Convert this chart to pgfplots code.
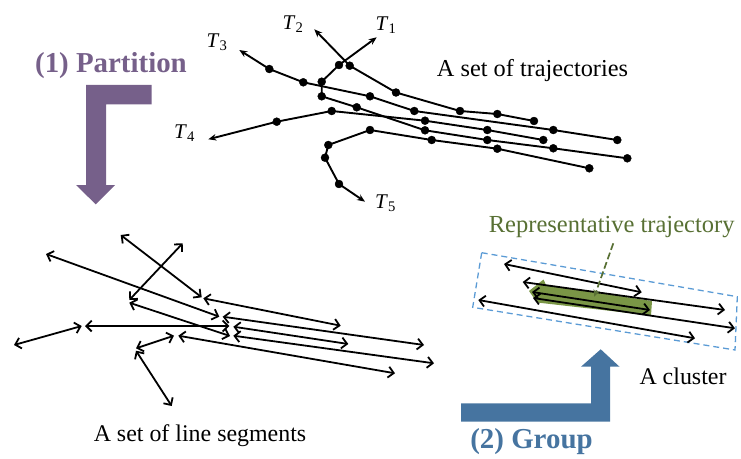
\documentclass[border=0pt]{standalone}
\usepackage{pgfplots}
\pgfplotsset{compat=1.18}
\usepackage{fontspec}
\setmainfont{Liberation Serif}
\usetikzlibrary{arrows.meta}
\definecolor{purp}{RGB}{118,96,138}
\definecolor{blu}{RGB}{70,116,160}
\definecolor{grtxt}{RGB}{88,112,52}
\definecolor{grband}{RGB}{122,150,70}
\definecolor{boxblue}{RGB}{91,155,213}
\tikzset{
  seg/.style={black, line width=1.8pt, {Straight Barb[length=5.5pt,width=11pt,line width=1.8pt]}-{Straight Barb[length=5.5pt,width=11pt,line width=1.8pt]}},
  traj/.style={black, line width=1.9pt, -{Stealth[length=8pt,width=6.5pt]}},
  dots/.style={only marks, mark=*, mark size=4pt, black},
}
\begin{document}
\begin{tikzpicture}
\begin{axis}[
  width=741bp, height=459bp, scale only axis,
  xmin=0, xmax=741, ymin=0, ymax=459, y dir=reverse,
  hide axis, clip=false,
]
% Partition arrow
\addplot[fill=purp, draw=none] coordinates {(151.7,85) (86,85) (86,185) (76,185) (95.7,204.3) (115,185) (106,185) (106,104.3) (151.7,104.3)} -- cycle;
% Group arrow
\addplot[fill=blu, draw=none] coordinates {(461,403.3) (591,403.3) (591,366.7) (581,366.7) (600.7,349.3) (619.5,366.7) (610,366.7) (610,421.7) (461,421.7)} -- cycle;

% Trajectories
\addplot[traj] coordinates {(627.3,158.3) (553.3,148.3) (487.3,140) (425,130.3) (356.7,107.3) (321.7,96.3) (321.7,81.7) (339,65) (376.7,37.3)};
\addplot[dots] coordinates {(627.3,158.3) (553.3,148.3) (487.3,140) (425,130.3) (356.7,107.3) (321.7,96.3) (321.7,81.7) (339,65)};
\addplot[traj] coordinates {(534,121) (497.3,114) (460,111) (396,92.5) (349.7,65.7) (314.3,29.3)};
\addplot[dots] coordinates {(534,121) (497.3,114) (460,111) (396,92.5) (349.7,65.7)};
\addplot[traj] coordinates {(617.3,140) (553.3,130) (414.3,111) (370,96.3) (303.3,82.3) (269.3,69) (239.3,50)};
\addplot[dots] coordinates {(617.3,140) (553.3,130) (414.3,111) (370,96.3) (303.3,82.3) (269.3,69)};
\addplot[traj] coordinates {(543.3,140) (487.3,130) (425,120.7) (331.7,111) (276.7,121.7) (208.3,139.3)};
\addplot[dots] coordinates {(543.3,140) (487.3,130) (425,120.7) (331.7,111) (276.7,121.7)};
\addplot[traj] coordinates {(589.3,168.3) (497.3,148.7) (431.7,140) (370,130) (328.3,145) (325,157.7) (339,184) (365,201.7)};
\addplot[dots] coordinates {(589.3,168.3) (497.3,148.7) (431.7,140) (370,130) (328.3,145) (325,157.7) (339,184)};

% Line segments
\addplot[seg] coordinates {(120.7,235) (201.7,297.3)};
\addplot[seg] coordinates {(182.7,243.3) (129.3,300)};
\addplot[seg] coordinates {(46,254) (219.3,316.7)};
\addplot[seg] coordinates {(129.3,302.7) (230,336)};
\addplot[seg] coordinates {(14,345) (81.7,326)};
\addplot[seg] coordinates {(85,326) (229.3,326)};
\addplot[seg] coordinates {(136,348.3) (174,335.7)};
\addplot[seg] coordinates {(136,350.7) (171.7,406)};
\addplot[seg] coordinates {(178.3,335.7) (395,373.3)};
\addplot[seg] coordinates {(203.3,298.3) (340.7,325.7)};
\addplot[seg] coordinates {(222.7,316.7) (424,345)};
\addplot[seg] coordinates {(233.3,326.7) (348.3,344)};
\addplot[seg] coordinates {(233.3,335.7) (434,363.3)};

% Cluster
\addplot[boxblue, line width=1.3pt, dash pattern=on 6pt off 4pt] coordinates {(481.7,252.7) (737.3,296.7) (735,350) (472.7,307.3)} -- cycle;
\addplot[fill=grband, draw=none] coordinates {(652,301) (546,285) (543.5,279.5) (529,291) (537,302.5) (651,315.5)} -- cycle;
\addplot[seg] coordinates {(504,264) (641.7,292.3)};
\addplot[seg] coordinates {(522.7,282) (725,310)};
\addplot[seg] coordinates {(532,292) (650,310)};
\addplot[seg] coordinates {(533,298) (735,328.3)};
\addplot[seg] coordinates {(478.3,300) (695,338.3)};
\addplot[grtxt, line width=1.7pt, dash pattern=on 7pt off 3pt, -{Stealth[length=7pt,width=6.5pt]}] coordinates {(613.3,243.3) (594.3,296.7)};

% Texts
\node[inner sep=0, text=purp, font=\fontsize{29}{29}\selectfont\bfseries] at (axis cs:111,66) {(1) Partition};
\node[inner sep=0, text=blu, font=\fontsize{29}{29}\selectfont\bfseries] at (axis cs:531.5,442) {(2) Group};
\node[inner sep=0, font=\fontsize{24.4}{24}\selectfont] at (axis cs:532.5,71) {A set of trajectories};
\node[inner sep=0, font=\fontsize{24}{24}\selectfont] at (axis cs:200,436) {A set of line segments};
\node[inner sep=0, font=\fontsize{24}{24}\selectfont] at (axis cs:683,376) {A cluster};
\node[inner sep=0, text=grtxt, font=\fontsize{24.6}{24}\selectfont] at (axis cs:611.7,227) {Representative trajectory};
\node[inner sep=0, font=\fontsize{21}{21}\selectfont] at (axis cs:386,25) {\textit{T}\textsubscript{1}};
\node[inner sep=0, font=\fontsize{21}{21}\selectfont] at (axis cs:293,24) {\textit{T}\textsubscript{2}};
\node[inner sep=0, font=\fontsize{21}{21}\selectfont] at (axis cs:217,42) {\textit{T}\textsubscript{3}};
\node[inner sep=0, font=\fontsize{21}{21}\selectfont] at (axis cs:184.5,133) {\textit{T}\textsubscript{4}};
\node[inner sep=0, font=\fontsize{21}{21}\selectfont] at (axis cs:385.5,203) {\textit{T}\textsubscript{5}};
\end{axis}
\pgfresetboundingbox
\path (0,0) rectangle (741bp,459bp);
\end{tikzpicture}
\end{document}
